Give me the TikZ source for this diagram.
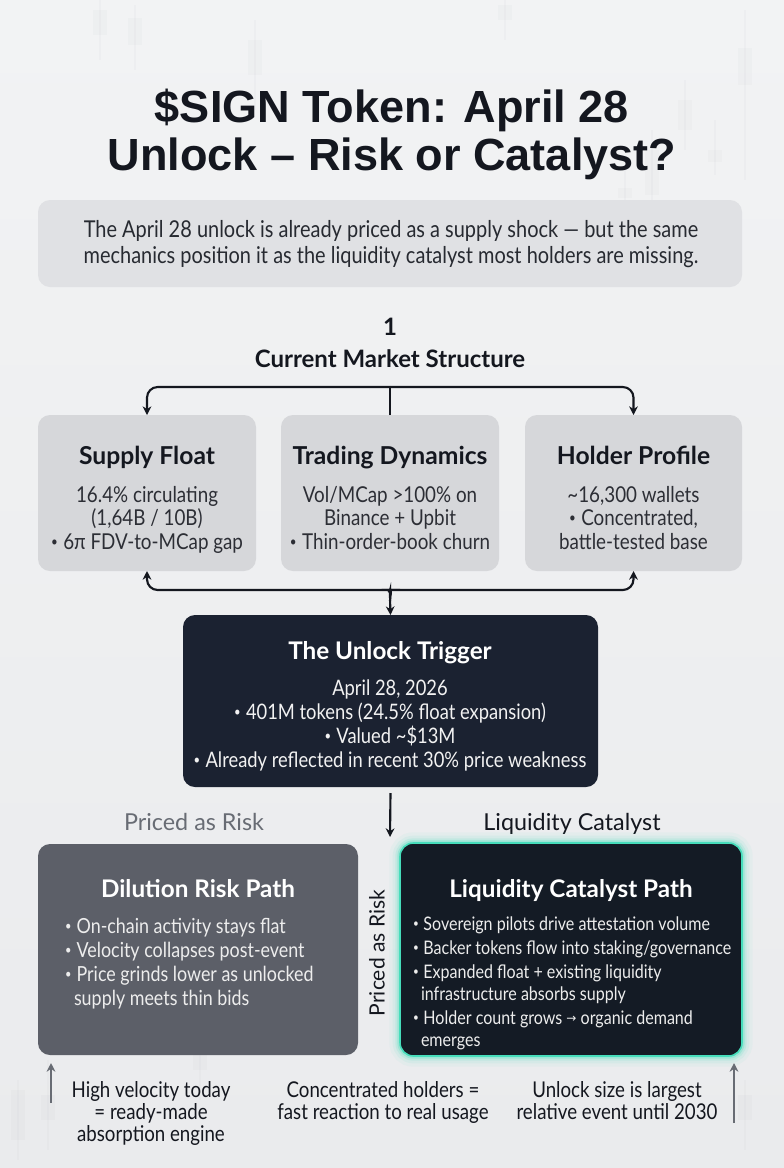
\documentclass[tikz,border=0pt]{standalone}
\usepackage{fontspec}
\setmainfont{Lato}[FakeStretch=0.86]
\newfontfamily\headfont{Lato}
\newfontfamily\titlefont{Liberation Sans}
\newfontfamily\symfont{DejaVu Sans}
\usetikzlibrary{arrows.meta}
\definecolor{bgtop}{HTML}{F2F3F4}
\definecolor{bgbot}{HTML}{EAEBED}
\definecolor{ink}{HTML}{14171F}
\definecolor{boxg}{HTML}{D6D7DA}
\definecolor{subg}{HTML}{E0E1E4}
\definecolor{navy}{HTML}{1B2231}
\definecolor{slate}{HTML}{5C5F68}
\definecolor{deep}{HTML}{141B25}
\definecolor{teal}{HTML}{46DDBB}
\definecolor{mute}{HTML}{686C74}
\definecolor{candle}{HTML}{B9BCC2}
\newcommand\arr{{\symfont\fontsize{9}{9}\selectfont\raisebox{1pt}{→}}}
\newcommand\bu{\raisebox{0.12em}{\scalebox{0.62}{•}}\hspace{0.25em}}
\begin{document}
\begin{tikzpicture}[x=0.75pt,y=-0.75pt,
  conn/.style={draw=ink,line width=1.6pt},
  tipa/.style={-{Stealth[length=6.5pt,width=6.5pt]}},
  panel/.style={rounded corners=9pt,inner sep=0pt,outer sep=0pt},
  lbl/.style={inner sep=0pt,outer sep=0pt,anchor=base},
  ttl/.style={lbl,text=ink,font=\titlefont\fontsize{33.8}{38}\selectfont\bfseries},
  subt/.style={lbl,text=ink!92,font=\fontsize{17.4}{20}\selectfont},
  sect/.style={lbl,text=ink,font=\headfont\fontsize{18}{20}\selectfont\bfseries},
  bxt/.style={lbl,text=ink,font=\headfont\fontsize{18.5}{20}\selectfont\bfseries},
  bxb/.style={lbl,text=ink!90,font=\fontsize{16.4}{18}\selectfont},
  wt/.style={lbl,text=white,font=\headfont\fontsize{18.2}{20}\selectfont\bfseries},
  wb/.style={lbl,text=white!95!black,font=\fontsize{16}{18}\selectfont},
  lb/.style={lbl,anchor=base west,text=white!93!black,font=\fontsize{15.6}{18}\selectfont},
  rb/.style={lbl,anchor=base west,text=white!93!black,font=\fontsize{14}{18}\selectfont},
  pl/.style={lbl,font=\headfont\fontsize{17.5}{20}\selectfont},
  bt/.style={lbl,text=ink,font=\fontsize{16.3}{18}\selectfont},
  cdl/.style={draw=candle,opacity=0.08,line width=0.8pt}
]
% background
\shade[top color=bgtop,bottom color=bgbot] (0,0) rectangle (784,1168);
\useasboundingbox (0,0) rectangle (784,1168);
% faint candles
\foreach \x/\a/\b/\c/\d in {100/0/60/10/35, 135/5/70/18/45, 255/20/110/40/75, 505/0/40/5/20, 745/10/180/48/85, 715/120/175/150/162, 685/80/150/100/130, 652/130/220/150/195, 625/170/215/188/198, 18/1080/1160/1090/1140, 48/1060/1150/1095/1120, 200/1030/1100/1045/1070, 745/1080/1150/1095/1120}
  {\draw[cdl] (\x,\a) -- (\x,\b); \fill[candle,opacity=0.07] (\x-7,\c) rectangle (\x+7,\d);}

% title
\node[ttl] (ti1) at (392,122) {\$SIGN Token: April 28};
\node[ttl] (ti2) at (392,170) {Unlock – Risk or Catalyst?};

% subtitle
\node[panel,fill=subg,minimum width=528pt,minimum height=65.25pt] (sub) at (390,243.5) {};
\node[subt] (sub1) at (391,237) {The April 28 unlock is already priced as a supply shock — but the same};
\node[subt] (sub2) at (391,263) {mechanics position it as the liquidity catalyst most holders are missing.};

% section heading
\node[sect] (num) at (390,335) {1};
\node[sect] (sec) at (390,367) {Current Market Structure};

% three boxes
\node[panel,fill=boxg,minimum width=163.5pt,minimum height=117pt] (sf) at (147,493) {};
\node[panel,fill=boxg,minimum width=163.5pt,minimum height=117pt] (td) at (390,493) {};
\node[panel,fill=boxg,minimum width=162.75pt,minimum height=117pt] (hp) at (633.5,493) {};

\node[bxt] (sfT) at (147,464) {Supply Float};
\node[bxb] (sf1) at (147,502) {16.4\% circulating};
\node[bxb] (sf2) at (147,525) {(1,64B / 10B)};
\node[bxb] (sf3) at (147,549) {\bu 6π FDV-to-MCap gap};

\node[bxt] (tdT) at (390,464) {Trading Dynamics};
\node[bxb] (td1) at (390,502) {Vol/MCap >100\% on};
\node[bxb] (td2) at (390,525) {Binance + Upbit};
\node[bxb] (td3) at (390,549) {\bu Thin-order-book churn};

\node[bxt] (hpT) at (633.5,464) {Holder Profile};
\node[bxb] (hp1) at (633.5,502) {\textasciitilde16,300 wallets};
\node[bxb] (hp2) at (633.5,525) {\bu Concentrated,};
\node[bxb] (hp3) at (633.5,549) {battle-tested base};

% top connector
\coordinate (hub) at (390,387);
\draw[conn] (td.north) -- (hub);
\draw[conn,tipa,rounded corners=8pt] (hub) -| (sf.north);
\draw[conn,tipa,rounded corners=8pt] (hub) -| (hp.north);

% trigger box
\node[panel,fill=navy,minimum width=311.25pt,minimum height=129pt] (trig) at (390.5,701) {};
\node[wt] (trT) at (390,659) {The Unlock Trigger};
\node[wb] (tr1) at (390,695) {April 28, 2026};
\node[wb] (tr2) at (390,719) {\bu 401M tokens (24.5\% float expansion)};
\node[wb] (tr3) at (390,743) {\bu Valued \textasciitilde\$13M};
\node[wb] (tr4) at (390,767) {\bu Already reflected in recent 30\% price weakness};

% bottom bracket connector
\draw[conn,{Stealth[length=6.5pt,width=6.5pt]}-{Stealth[length=6.5pt,width=6.5pt]},rounded corners=8pt]
  (sf.south) |- (381,590) .. controls (387,590) and (390,594) .. (390,601) -- (trig.north);
\draw[conn,{Stealth[length=6.5pt,width=6.5pt]}-,rounded corners=8pt]
  (hp.south) |- (399,590) .. controls (393,590) and (390,594) .. (390,601);

% arrow down to fork
\coordinate (fork) at (390,837);
\draw[conn,tipa] ([yshift=-4.5pt]trig.south) -- (fork);

% path labels
\node[pl,text=mute] (lrisk) at (194,830) {Priced as Risk};
\node[pl,text=ink] (lcat) at (572,830) {Liquidity Catalyst};

% dilution path
\node[panel,fill=slate,minimum width=240pt,minimum height=158.25pt] (dil) at (198,949.5) {};
\node[wt] (dilT) at (198,897) {Dilution Risk Path};
\node[lb] (d1) at (65,933) {\bu On-chain activity stays flat};
\node[lb] (d2) at (65,957) {\bu Velocity collapses post-event};
\node[lb] (d3) at (65,981) {\bu Price grinds lower as unlocked};
\node[lb] (d4) at (74,1005) {supply meets thin bids};

% liquidity path with glow
\foreach \w/\o in {16/0.05,11/0.08,7/0.14,4/0.28}
  \draw[teal,opacity=\o,line width=\w pt,rounded corners=10pt] (400,843) rectangle (742,1056);
\node[panel,rounded corners=10pt,fill=deep,draw=teal,line width=1.2pt,minimum width=256.5pt,minimum height=159.75pt] (liq) at (571,949.5) {};
\node[wt] (liqT) at (571,897) {Liquidity Catalyst Path};
\node[rb] (c1) at (413,930) {\bu Sovereign pilots drive attestation volume};
\node[rb] (c2) at (413,954) {\bu Backer tokens flow into staking/governance};
\node[rb] (c3) at (413,978) {\bu Expanded float + existing liquidity};
\node[rb] (c4) at (421,1000) {infrastructure absorbs supply};
\node[rb] (c5) at (413,1024) {\bu Holder count grows \arr{} organic demand};
\node[rb] (c6) at (421,1046) {emerges};

% rotated label
\node[inner sep=0pt,rotate=90,text=ink,font=\headfont\fontsize{15.8}{18}\selectfont] (rot) at (377,953) {Priced as Risk};

% bottom notes
\coordinate (la0) at (51,1103);
\coordinate (la1) at (51,1063);
\coordinate (ra0) at (734,1123);
\coordinate (ra1) at (734,1063);
\draw[draw=mute,line width=1.5pt,tipa] (la0) -- (la1);
\draw[draw=mute,line width=1.5pt,tipa] (ra0) -- (ra1);

\node[bt] (n1a) at (151,1097) {High velocity today};
\node[bt] (n1b) at (151,1119) {= ready-made};
\node[bt] (n1c) at (151,1141) {absorption engine};
\node[bt] (n2a) at (383,1097) {Concentrated holders =};
\node[bt] (n2b) at (383,1119) {fast reaction to real usage};
\node[bt] (n3a) at (617,1097) {Unlock size is largest};
\node[bt] (n3b) at (617,1119) {relative event until 2030};
\end{tikzpicture}
\end{document}
